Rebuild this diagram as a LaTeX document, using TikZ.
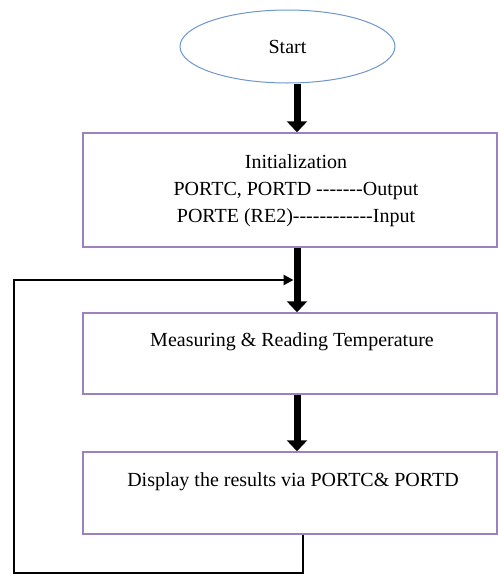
\documentclass[tikz,border=0pt]{standalone}
\usepackage{fontspec}
\setmainfont{Liberation Serif}[Ligatures=TeXOff]
\usetikzlibrary{arrows.meta, shapes.geometric, positioning, calc}
\definecolor{boxline}{RGB}{155,130,190}
\definecolor{startline}{RGB}{110,150,205}
\tikzset{
  procbox/.style={draw=boxline, line width=1.5pt, rectangle, inner sep=0pt, minimum width=414pt},
  startbox/.style={draw=startline, line width=1pt, ellipse, inner sep=0pt, minimum width=215pt, minimum height=73pt},
  bigarrow/.style={line width=7pt, -{Triangle[width=20pt,length=11pt]}},
  looparrow/.style={line width=2.5pt, -{Triangle[width=10pt,length=10pt]}},
  txt/.style={font=\fontsize{20}{27}\selectfont, inner sep=0pt}
}
\begin{document}
\begin{tikzpicture}[x=1pt,y=-1pt]
    \useasboundingbox (0,0) rectangle (498,576);
    \node[startbox, txt] (start) at (287.5,46.5) {Start};
    \node[procbox, minimum height=114pt] (init) at (290,190) {};
    \node[txt, align=center] (inittxt) at (296,190.5) {Initialization\\PORTC, PORTD -------Output\\PORTE (RE2)------------Input};
    \node[procbox, minimum height=81pt] (measure) at (290,353.5) {};
    \node[txt] (measuretxt) at (292,342) {Measuring \& Reading Temperature};
    \node[procbox, minimum height=82pt] (display) at (290,493) {};
    \node[txt] (displaytxt) at (293,482) {Display the results via PORTC\& PORTD};
    \coordinate (spine) at (297,0);
    \coordinate (loopout) at (303,0);
    \coordinate (corner1) at (14,573);
    \coordinate (corner2) at (14,280);
    \coordinate (loopend) at (293.5,280);
    \draw[bigarrow] (start.south -| spine) -- (init.north -| spine);
    \draw[bigarrow] (init.south -| spine) -- (measure.north -| spine);
    \draw[bigarrow] (measure.south -| spine) -- (display.north -| spine);
    \draw[looparrow] (display.south -| loopout) |- (corner1) -- (corner2) -- (loopend);
\end{tikzpicture}
\end{document}
